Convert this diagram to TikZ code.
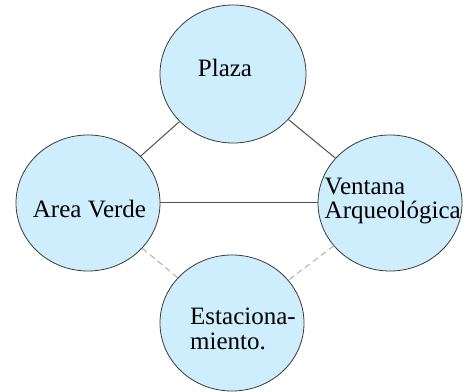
\documentclass[tikz,border=0pt]{standalone}
\usepackage{fontspec}
\setmainfont{Liberation Serif}
\usepackage{xcolor}
\usetikzlibrary{shapes.geometric}
\definecolor{azulzona}{HTML}{CFEEFD}
\definecolor{bordezona}{HTML}{3A3A3A}
\definecolor{grislinea}{HTML}{505050}
\definecolor{grisclaro}{HTML}{ABABAB}
\tikzset{
  zona/.style={ellipse,draw=bordezona,fill=azulzona,line width=0.8pt,
    minimum width=144pt,minimum height=136pt,inner sep=0pt},
  rotulo/.style={font=\fontsize{25}{24.5}\selectfont,inner sep=0pt,align=left},
  enlace/.style={grislinea,line width=1pt},
  enlacedebil/.style={grisclaro,line width=0.9pt,dash pattern=on 6pt off 4pt}
}

\begin{document}
\begin{tikzpicture}[x=1pt,y=1pt]
  \useasboundingbox (0,0) rectangle (463,391);
  \node[zona,minimum width=146pt,minimum height=138pt] (plaza) at (233,317) {};
  \node[zona] (verde) at (88,188) {};
  \node[zona] (ventana) at (390,188) {};
  \node[zona] (estac) at (232,68) {};
  \draw[enlace] (plaza) -- (verde);
  \draw[enlace] (plaza) -- (ventana);
  \draw[enlace] (verde.east) -- (ventana.west);
  \draw[enlacedebil] (verde) -- (estac);
  \draw[enlacedebil] (ventana) -- (estac);
  \node[rotulo,anchor=base] (tplaza) at (225,314) {Plaza};
  \node[rotulo,anchor=base] (tverde) at (89.5,173) {Area Verde};
  \node[rotulo,anchor=west] (tventana) at (324.5,190) {Ventana\\Arqueológica};
  \node[rotulo,anchor=west] (testac) at (190,62) {Estaciona-\\miento.};
\end{tikzpicture}
\end{document}
